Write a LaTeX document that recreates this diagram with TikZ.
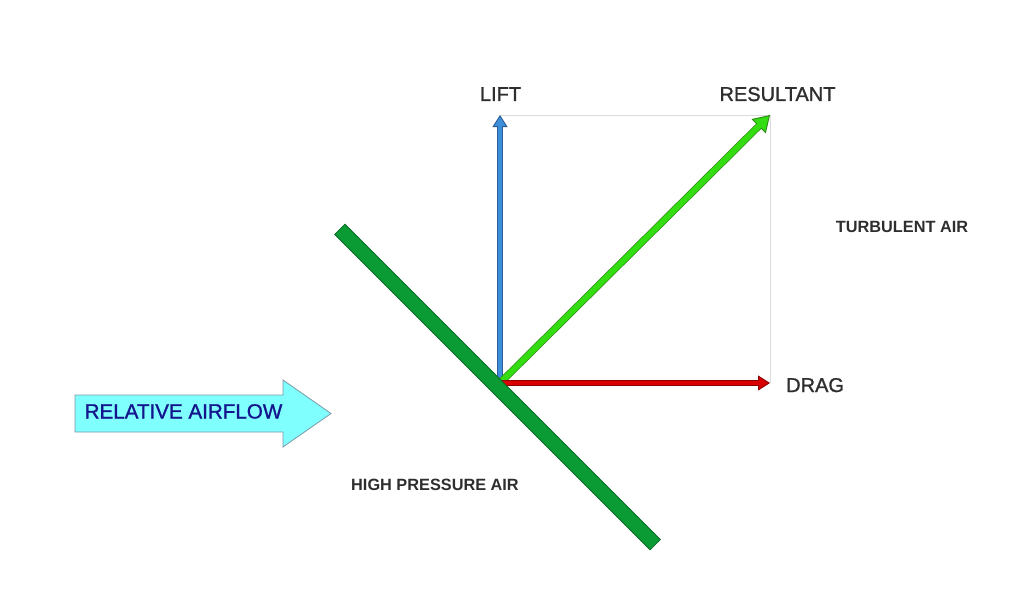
\documentclass[tikz,border=0pt]{standalone}
\usepackage{fontspec}
\setmainfont{Liberation Sans}
\newfontfamily\medfont[FakeBold=1.2]{Liberation Sans}
\usetikzlibrary{arrows.meta}
\definecolor{txtgray}{HTML}{2E2E2E}
\definecolor{wingfill}{HTML}{0A9B35}
\definecolor{wingedge}{HTML}{0A6A25}
\definecolor{resfill}{HTML}{33DD11}
\definecolor{resedge}{HTML}{2A8A10}
\definecolor{liftfill}{HTML}{3C8FD8}
\definecolor{liftedge}{HTML}{2A5C98}
\definecolor{dragfill}{HTML}{D80000}
\definecolor{dragedge}{HTML}{900000}
\definecolor{airfill}{HTML}{80FFFF}
\definecolor{airedge}{HTML}{7A9AA8}
\definecolor{airtext}{HTML}{14148C}
\definecolor{guide}{HTML}{DCDCDC}
\newcommand\fatarrow[7]{%
  \draw[#2, line width=#3+1.4pt, -{Triangle[length=#4,width=#5,fill=#1,line width=0.9pt]}] (#6) -- (#7);
  \draw[#1, line width=#3, shorten >=#4-1.5pt] (#6) -- (#7);
}
\tikzset{
  biglabel/.style={text=txtgray, inner sep=0pt, font=\medfont\fontsize{20}{24}\selectfont},
  smalllabel/.style={text=txtgray, inner sep=0pt, font=\bfseries\fontsize{16.3}{20}\selectfont},
  guideline/.style={draw=guide, line width=0.7pt},
}
\begin{document}
\begin{tikzpicture}[x=1pt,y=-1pt]
\useasboundingbox (0,0) rectangle (1024,615);
\fill[white] (0,0) rectangle (1024,615);
% key points
\coordinate (O) at (500,383);
\coordinate (L) at (500,115);
\coordinate (R) at (770,115);
\coordinate (D) at (770,383);
% guide lines
\draw[guideline] (L) -- (R) -- (D);
% force arrows
\fatarrow{liftfill}{liftedge}{3.8pt}{12pt}{15pt}{O}{L}
\fatarrow{resfill}{resedge}{5.8pt}{16pt}{20pt}{O}{R}
\fatarrow{dragfill}{dragedge}{4.6pt}{12pt}{15pt}{O}{D}
% wing
\node (wing) at (497.5,387) [rotate=-45, draw=wingedge, fill=wingfill, line width=0.8pt,
  minimum width=446pt, minimum height=14.5pt, inner sep=0pt] {};
% relative airflow arrow
\filldraw[fill=airfill, draw=airedge, line width=0.8pt]
  (75,395) -- (283,395) -- (283,380) -- (331,413.5) -- (283,447) -- (283,432) -- (75,432) -- cycle;
\node (airflow) at (183.5,418.5) [anchor=base, inner sep=0pt, text=airtext,
  font=\medfont\fontsize{20.6}{24}\selectfont] {RELATIVE AIRFLOW};
% labels
\node (lift) at (500.5,101) [biglabel, anchor=base] {LIFT};
\node (res) at (777.5,101) [biglabel, anchor=base] {RESULTANT};
\node (drag) at (786,392) [biglabel, anchor=base west] {DRAG};
\node (turb) at (902,232.5) [smalllabel, anchor=base] {TURBULENT AIR};
\node (hp) at (435,490.5) [smalllabel, anchor=base] {HIGH PRESSURE AIR};
\end{tikzpicture}
\end{document}
